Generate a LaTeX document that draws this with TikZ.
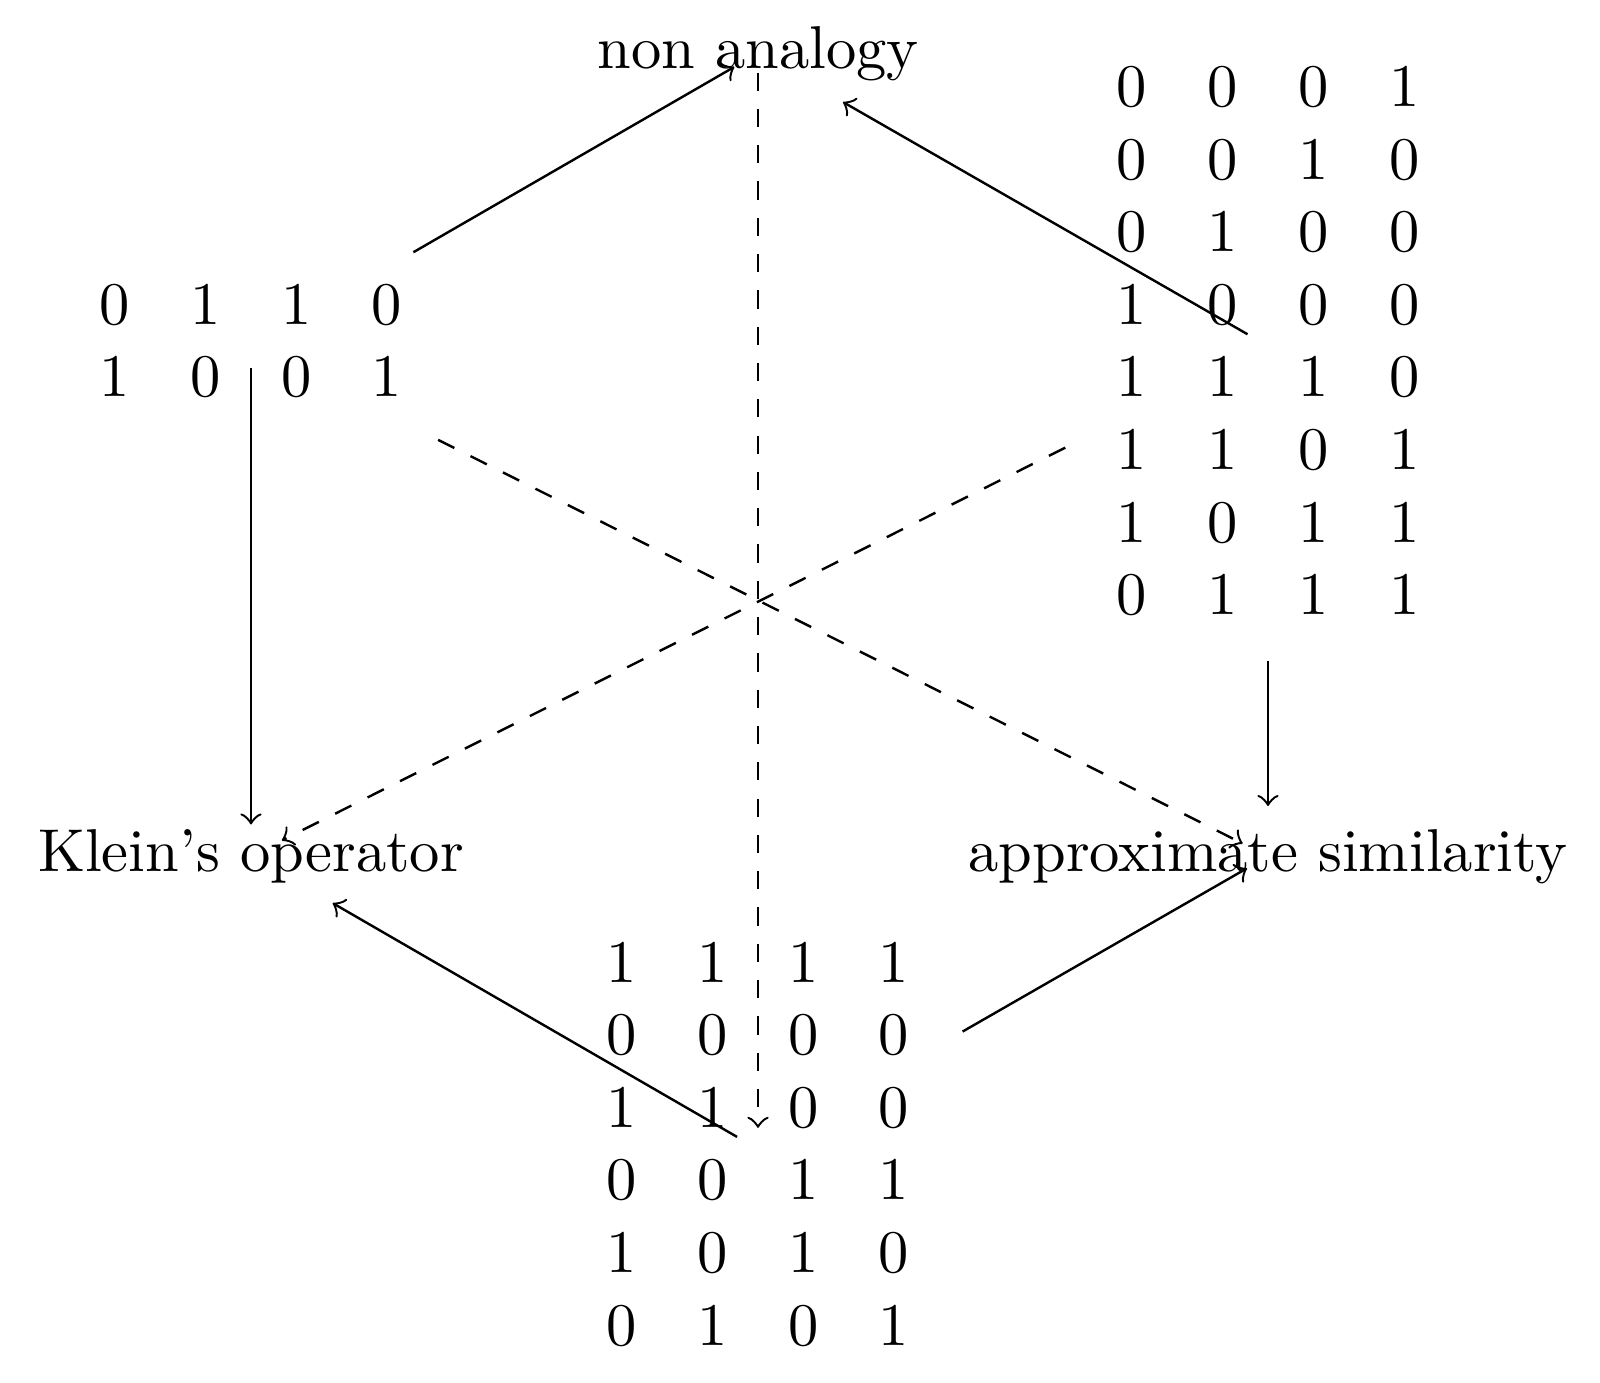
\documentclass[tikz,border=0pt]{standalone}
\usetikzlibrary{calc}
\begin{document}
\begin{tikzpicture}[x=0.1653pt,y=-0.1653pt,
  lbl/.style={inner sep=0pt,anchor=base},
  mat/.style={inner sep=0pt},
  arr/.style={->,line width=0.4pt},
  darr/.style={->,dashed,line width=0.4pt}]
\useasboundingbox (0,0) rectangle (1600,1382);
\node[lbl] (NA) at (758,68) {non analogy};
\node[lbl] (K) at (251,871) {Klein's operator};
\node[lbl] (A) at (1268,871) {approximate similarity};
\node[mat] (L) at (251,346) {$\begin{array}{cccc}0&1&1&0\\1&0&0&1\end{array}$};
\node[mat] (R) at (1268,346) {$\begin{array}{cccc}0&0&0&1\\0&0&1&0\\0&1&0&0\\1&0&0&0\\1&1&1&0\\1&1&0&1\\1&0&1&1\\0&1&1&1\end{array}$};
\node[mat] (B) at (758,1149) {$\begin{array}{cccc}1&1&1&1\\0&0&0&0\\1&1&0&0\\0&0&1&1\\1&0&1&0\\0&1&0&1\end{array}$};
% solid arrows
\draw[arr,shorten <=31pt,shorten >=4.5pt] (L.center) -- (NA.center);
\draw[arr,shorten <=3.9pt,shorten >=16.2pt] (R.center) -- (NA.center);
\draw[arr,shorten <=3.7pt,shorten >=5.2pt] (L.center) -- (K.center);
\draw[arr,shorten <=52pt,shorten >=8.3pt] (R.center) -- (A.center);
\draw[arr,shorten <=4pt,shorten >=15.6pt] (B.center) -- (K.center);
\draw[arr,shorten <=39pt,shorten >=4pt] (B.center) -- (A.center);
% dashed arrows
\draw[darr,shorten <=3.2pt,shorten >=3.5pt] (NA.center) -- (B.center);
\draw[darr,shorten <=37.5pt,shorten >=5.7pt] (R.center) -- (K.center);
\draw[darr,shorten <=34.6pt,shorten >=4.7pt] (L.center) -- (A.center);
\end{tikzpicture}
\end{document}
